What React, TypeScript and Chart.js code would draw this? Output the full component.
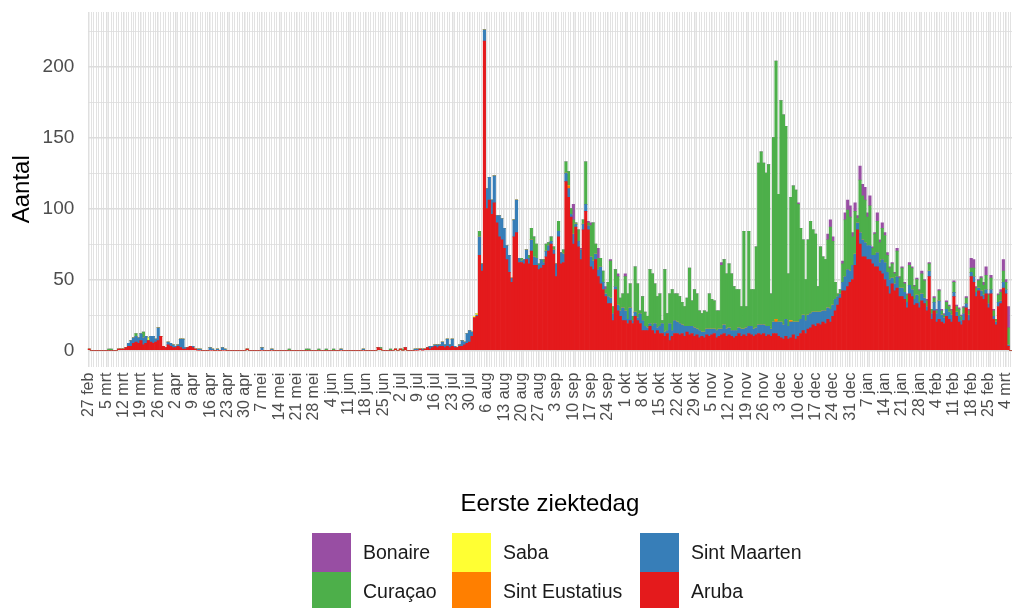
import React, { useEffect, useRef } from 'react';
import { Chart, registerables } from 'chart.js';

Chart.register(...registerables);

// Tick labels (one every 7 days, starting 27 feb 2020)
const TICK_LABELS = [
  '27 feb', '5 mrt', '12 mrt', '19 mrt', '26 mrt', '2 apr', '9 apr', '16 apr', '23 apr', '30 apr',
  '7 mei', '14 mei', '21 mei', '28 mei', '4 jun', '11 jun', '18 jun', '25 jun', '2 jul', '9 jul',
  '16 jul', '23 jul', '30 jul', '6 aug', '13 aug', '20 aug', '27 aug', '3 sep', '10 sep', '17 sep',
  '24 sep', '1 okt', '8 okt', '15 okt', '22 okt', '29 okt', '5 nov', '12 nov', '19 nov', '26 nov',
  '3 dec', '10 dec', '17 dec', '24 dec', '31 dec', '7 jan', '14 jan', '21 jan', '28 jan', '4 feb',
  '11 feb', '18 feb', '25 feb', '4 mrt',
];

// y gridline values (labels only on the multiples of 50)
const Y_TICKS = [0, 25, 50, 75, 100, 125, 150, 175, 200, 225];

// Daily counts, day 0 = 27 feb 2020 ... day 373 = 6 mrt 2021
const ARUBA = [
  1,0,0,0,0,0,0,0,0,0,0,0,1,1,
  1,2,3,3,5,6,5,7,4,5,7,6,5,6,
  7,10,3,2,4,3,2,2,3,2,1,1,2,3,
  2,1,0,0,0,0,0,0,0,0,0,0,0,0,
  0,0,0,0,0,0,0,0,1,0,0,0,0,0,
  0,0,0,0,0,0,0,0,0,0,0,0,0,0,
  0,0,0,0,0,0,0,0,0,0,0,0,0,0,
  0,0,0,0,0,0,0,0,0,0,0,0,0,0,
  0,0,0,0,0,2,1,0,0,0,0,0,1,0,
  1,0,2,0,0,0,0,0,1,0,1,2,1,2,
  3,2,3,3,2,3,2,3,2,2,3,3,4,5,
  6,10,23,24,67,56,218,100,106,96,104,90,80,78,
  72,64,55,48,80,83,62,62,61,64,61,70,60,60,
  57,58,60,66,70,75,68,52,80,61,62,119,108,94,
  75,87,73,64,85,98,85,59,57,64,52,47,43,38,
  33,33,21,43,28,24,21,21,19,21,19,24,21,19,
  14,14,14,17,14,12,14,12,12,10,12,7,10,12,
  12,11,12,10,13,11,12,10,11,9,10,9,11,10,
  11,12,9,10,11,12,10,11,10,9,10,12,10,11,
  10,12,11,10,11,12,11,12,10,11,10,12,12,10,
  9,8,10,8,9,11,8,10,12,14,12,15,16,18,
  17,19,18,20,19,22,20,24,28,32,37,42,42,45,
  48,50,60,85,75,66,66,64,64,61,59,59,56,54,
  50,45,40,47,42,44,38,38,36,30,40,38,32,33,
  30,35,33,28,52,22,28,20,22,20,19,24,22,20,
  38,24,20,18,21,30,21,52,48,38,42,38,36,40,
  30,40,22,18,31,33,44,40,3,0,
];

const SINT_MAARTEN = [
  0,0,0,0,0,0,0,0,0,0,0,0,0,0,
  0,0,2,4,4,4,4,5,5,5,0,4,5,2,
  9,0,0,0,2,2,2,1,1,6,7,1,0,0,
  1,0,1,1,0,0,0,2,1,0,1,0,2,1,
  0,0,0,0,0,0,0,0,0,0,0,0,0,0,
  2,0,0,0,1,0,0,0,0,0,0,0,0,0,
  0,0,0,0,0,0,0,0,0,0,0,0,0,0,
  0,0,0,0,1,0,0,0,0,0,0,0,0,1,
  0,0,0,0,0,0,0,0,0,0,0,0,0,0,
  0,0,0,0,0,0,1,1,0,1,0,0,2,1,
  1,2,1,3,2,5,2,5,1,0,1,4,2,7,
  8,3,0,1,13,5,8,14,16,10,19,5,15,15,
  14,10,12,3,12,23,3,1,3,7,4,8,6,5,
  3,6,2,4,4,2,3,9,4,8,6,6,6,2,
  7,2,4,7,4,5,3,7,6,4,5,12,5,2,
  5,4,5,2,4,4,9,7,3,9,2,3,2,7,
  7,3,2,2,3,7,2,5,7,3,2,12,4,9,
  8,8,6,7,4,6,5,6,4,5,3,4,4,5,
  4,3,5,5,4,6,5,5,4,5,4,4,5,4,
  6,5,6,5,5,6,7,6,7,6,5,8,8,10,
  11,10,12,9,11,9,12,10,10,11,9,10,10,9,
  10,8,9,8,9,8,9,8,8,6,3,6,10,12,
  8,10,8,5,8,12,10,10,10,6,8,10,6,10,
  12,10,10,4,5,8,6,6,5,4,6,5,4,6,
  4,5,4,3,4,4,6,6,13,5,4,5,5,5,
  3,3,4,3,5,3,4,3,4,3,2,4,3,3,
  3,3,2,2,3,2,4,3,1,0,
];

const SINT_EUSTATIUS = [
  0,0,0,0,0,0,0,0,0,0,0,0,0,0,
  0,0,0,0,0,0,0,0,0,0,0,0,0,0,
  0,0,0,0,0,0,0,0,0,0,0,0,0,0,
  0,0,0,0,0,0,0,0,0,0,0,0,0,0,
  0,0,0,0,0,0,0,0,0,0,0,0,0,0,
  0,0,0,0,0,0,0,0,0,0,0,0,0,0,
  0,0,0,0,0,0,0,0,0,0,0,0,0,0,
  0,0,0,0,0,0,0,0,0,0,0,0,0,0,
  0,0,0,0,0,0,0,0,0,0,0,0,0,0,
  0,0,0,0,0,0,0,0,0,0,0,0,0,0,
  0,0,0,0,0,0,0,0,0,0,0,0,0,0,
  0,0,0,0,0,0,0,0,0,0,0,0,0,0,
  0,0,0,0,0,0,0,0,0,0,0,0,0,0,
  0,0,0,0,0,0,0,0,0,0,0,0,2,0,
  0,0,0,0,0,0,0,0,0,0,0,0,0,0,
  0,0,0,0,0,0,0,0,0,0,0,0,0,0,
  0,0,0,0,0,0,0,0,0,0,0,0,0,0,
  0,0,0,0,0,0,0,0,0,0,0,0,0,0,
  0,0,0,0,0,0,0,0,0,0,0,0,0,0,
  0,0,0,0,0,0,0,0,0,0,0,0,2,0,
  0,0,0,0,1,0,0,0,0,0,0,0,0,0,
  0,0,0,0,0,0,0,0,0,0,0,0,0,0,
  0,0,0,0,0,0,0,0,0,0,0,0,0,0,
  0,0,0,0,0,0,0,0,0,0,0,0,0,0,
  0,0,0,0,0,0,0,0,0,0,0,0,0,0,
  0,0,0,0,0,0,0,0,0,0,0,0,0,0,
  0,0,0,0,0,0,0,0,0,0,
];

const SABA = [
  0,0,0,0,0,0,0,0,0,0,0,0,0,0,
  0,0,0,0,0,0,0,0,0,0,2,0,0,0,
  0,0,0,0,0,0,0,0,0,0,0,0,0,0,
  0,0,0,0,0,0,0,0,0,0,0,0,0,0,
  0,0,0,0,0,0,0,0,0,0,0,0,0,0,
  0,0,0,0,0,0,0,0,0,0,0,0,0,0,
  0,0,0,0,0,0,0,0,0,0,0,0,0,0,
  0,0,0,0,0,0,0,0,0,0,0,0,0,0,
  0,0,0,0,0,0,0,0,0,0,0,0,0,0,
  0,0,0,0,0,0,0,0,0,0,0,0,0,0,
  0,0,0,0,0,0,0,0,0,0,0,0,0,0,
  0,0,1,1,0,0,0,0,0,0,0,0,0,0,
  0,0,0,0,0,0,0,0,0,0,0,0,0,0,
  0,0,0,0,0,0,0,0,0,0,0,0,0,0,
  0,0,0,0,0,0,0,0,0,0,0,0,0,0,
  0,0,0,0,0,0,0,0,0,0,0,0,0,0,
  0,0,0,0,0,0,0,0,0,0,0,0,0,0,
  0,0,0,0,0,0,0,0,0,0,0,0,0,0,
  0,0,0,0,0,0,0,0,0,0,0,0,0,0,
  0,0,0,0,0,0,0,0,0,0,0,0,0,0,
  0,0,0,0,0,0,0,0,0,0,0,0,0,0,
  0,0,0,0,0,0,0,0,0,0,0,0,0,0,
  0,0,0,0,0,0,0,0,0,0,0,0,0,0,
  0,0,0,0,0,0,0,0,0,0,0,0,0,0,
  0,0,0,0,0,0,0,0,0,0,0,0,0,0,
  0,0,0,0,0,0,0,0,0,0,0,0,0,0,
  0,0,0,0,0,0,0,0,0,0,
];

const CURACAO = [
  0,0,0,0,0,0,0,0,1,1,0,0,0,0,
  0,0,0,0,0,2,0,0,4,0,0,0,0,0,
  0,0,0,0,0,0,0,0,0,0,0,0,0,0,
  0,0,0,0,0,0,0,0,0,0,0,0,0,0,
  0,0,0,0,0,0,0,0,0,0,0,0,0,0,
  0,0,0,0,0,0,0,0,0,0,0,1,0,0,
  0,0,0,0,1,1,0,0,0,1,0,0,1,0,
  0,1,0,0,0,0,0,0,0,0,0,0,0,0,
  0,0,0,0,0,0,1,0,0,0,1,0,0,0,
  0,1,0,0,0,0,0,0,0,0,0,0,0,0,
  0,0,0,0,0,0,0,0,0,0,0,0,0,0,
  0,0,0,0,4,0,0,0,0,0,0,0,0,0,
  0,0,0,0,0,0,0,2,0,0,2,8,14,10,
  1,0,2,5,2,3,2,0,7,0,3,8,10,4,
  10,1,8,0,3,30,2,22,27,7,8,6,8,3,
  10,26,5,12,20,9,10,24,18,17,3,32,24,2,
  17,10,8,38,37,28,22,23,2,44,12,21,29,19,
  20,19,16,14,20,41,18,27,25,14,13,15,12,25,
  21,20,14,13,45,46,39,45,40,31,29,27,16,69,
  15,67,26,28,57,114,122,114,108,114,25,130,182,90,
  156,148,136,37,87,96,93,83,64,53,29,53,65,58,
  55,18,46,38,36,48,58,45,12,2,3,13,40,42,
  38,20,30,3,37,31,30,20,28,5,15,22,14,22,
  19,12,8,10,7,18,7,14,6,5,14,15,9,11,
  8,14,12,4,5,3,3,2,7,3,2,5,4,3,
  7,4,5,3,4,4,3,3,6,3,5,9,7,10,
  6,8,4,2,5,6,8,5,12,0,
];

const BONAIRE = [
  0,0,0,0,0,0,0,0,0,0,0,0,0,0,
  0,0,0,0,0,0,0,0,0,0,0,0,0,0,
  0,0,0,0,0,0,0,0,0,0,0,0,0,0,
  0,0,0,0,0,0,0,0,0,0,0,0,0,0,
  0,0,0,0,0,0,0,0,0,0,0,0,0,0,
  0,0,0,0,0,0,0,0,0,0,0,0,0,0,
  0,0,0,0,0,0,0,0,0,0,0,0,0,0,
  0,0,0,0,0,0,0,0,0,0,0,0,0,0,
  0,0,0,0,0,0,0,0,0,0,0,0,0,0,
  0,0,0,0,0,0,0,0,0,0,0,0,0,0,
  0,0,0,0,0,0,0,0,0,0,0,0,0,0,
  0,0,0,0,0,0,0,0,0,0,0,0,0,0,
  0,0,0,0,0,0,0,0,0,0,0,0,0,0,
  0,0,0,0,0,0,0,0,0,0,0,0,0,0,
  11,0,0,1,0,0,1,2,0,0,7,0,0,2,
  0,1,0,0,2,0,0,2,0,0,0,0,0,0,
  0,0,0,0,0,0,0,0,0,0,0,0,0,0,
  0,0,0,0,0,0,0,0,0,0,0,0,0,0,
  0,0,0,0,2,0,0,0,0,0,0,0,0,0,
  0,0,0,0,0,0,0,0,0,0,0,0,0,0,
  0,0,0,0,0,0,0,1,0,0,0,0,0,0,
  0,0,0,0,0,4,5,3,0,0,0,2,5,7,
  8,3,6,2,10,8,9,3,7,1,1,6,2,4,
  2,2,1,1,1,2,1,1,1,1,2,1,1,1,
  1,2,1,1,1,0,1,1,1,1,1,1,1,1,
  1,1,1,1,1,1,1,7,6,1,1,1,2,6,
  1,2,1,0,1,2,8,2,15,0,
];

const DAYS = ARUBA.map((_, i) => `dag ${i}`);

const SERIES = [
  { label: 'Aruba', data: ARUBA, color: '#E41A1C' },
  { label: 'Sint Maarten', data: SINT_MAARTEN, color: '#377EB8' },
  { label: 'Sint Eustatius', data: SINT_EUSTATIUS, color: '#FF7F00' },
  { label: 'Saba', data: SABA, color: '#FFFF33' },
  { label: 'Curaçao', data: CURACAO, color: '#4DAF4A' },
  { label: 'Bonaire', data: BONAIRE, color: '#984EA3' },
];

// legend in ggplot order (column-major, 2 rows)
const LEGEND = [
  { label: 'Bonaire', color: '#984EA3' },
  { label: 'Curaçao', color: '#4DAF4A' },
  { label: 'Saba', color: '#FFFF33' },
  { label: 'Sint Eustatius', color: '#FF7F00' },
  { label: 'Sint Maarten', color: '#377EB8' },
  { label: 'Aruba', color: '#E41A1C' },
];

const FONT = '"Liberation Sans", Arial, Helvetica, sans-serif';
const W = 1012;
const H = 608;
const PLOT_LEFT = 87.8;
const PLOT_BOTTOM = 366.6;
const LEG_COLS = [312, 452, 640];
const LEG_ROWS = [533, 572];
const LEG_SQ = 39;

export default function App() {
  const ref = useRef<HTMLCanvasElement>(null);

  useEffect(() => {
    const canvas = ref.current;
    if (!canvas) return;
    const chart = new Chart(canvas, {
      type: 'bar',
      data: {
        labels: DAYS,
        datasets: SERIES.map((s) => ({
          label: s.label,
          data: s.data,
          backgroundColor: s.color,
          borderWidth: 0,
          barPercentage: 1,
          categoryPercentage: 1,
        })),
      },
      options: {
        animation: false,
        responsive: false,
        maintainAspectRatio: false,
        devicePixelRatio: 1,
        layout: { padding: { top: 12, left: 0, right: 0, bottom: 0 }, autoPadding: false },
        plugins: { legend: { display: false }, tooltip: { enabled: false } },
        scales: {
          x: {
            stacked: true,
            offset: true,
            border: { display: false },
            grid: {
              offset: false,
              drawTicks: false,
              color: '#DFDFDF',
              lineWidth: (ctx: any) => (ctx.index % 7 === 0 ? 1.5 : 0.9),
            },
            ticks: {
              autoSkip: false,
              maxRotation: 90,
              minRotation: 90,
              padding: 6,
              color: '#4D4D4D',
              font: { family: FONT, size: 16 },
              callback: (_v: any, i: number) => (i % 7 === 0 ? TICK_LABELS[i / 7] : ''),
            },
            title: {
              display: true,
              text: 'Eerste ziektedag',
              color: '#000000',
              font: { family: FONT, size: 24 },
              padding: { top: 0, bottom: 89.6 },
            },
            afterFit: (scale: any) => {
              scale.height = H - PLOT_BOTTOM;
              scale.paddingLeft = 0;
              scale.paddingRight = 0;
              scale.paddingTop = 0;
              scale.paddingBottom = 0;
            },
          },
          y: {
            stacked: true,
            min: -11.35,
            max: 238.5,
            border: { display: false },
            grid: {
              drawTicks: false,
              color: '#DCDCDC',
              lineWidth: (ctx: any) => (ctx.tick && ctx.tick.value % 50 === 0 ? 1.5 : 0.8),
            },
            afterBuildTicks: (scale: any) => {
              scale.ticks = Y_TICKS.map((v) => ({ value: v }));
            },
            ticks: {
              autoSkip: false,
              padding: 13.5,
              color: '#4D4D4D',
              font: { family: FONT, size: 19 },
              callback: (v: any) => (Number(v) % 50 === 0 ? String(v) : ''),
            },
            title: {
              display: true,
              text: 'Aantal',
              color: '#000000',
              font: { family: FONT, size: 24 },
              padding: { top: 8, bottom: 0 },
            },
            afterFit: (scale: any) => {
              scale.width = PLOT_LEFT;
              scale.paddingLeft = 0;
              scale.paddingRight = 0;
              scale.paddingTop = 0;
              scale.paddingBottom = 0;
            },
          },
        },
      },
    } as any);
    return () => chart.destroy();
  }, []);

  return (
    <div style={{ position: 'absolute', left: 0, top: 0, width: W, height: H, background: '#ffffff', overflow: 'hidden' }}>
      <canvas ref={ref} width={W} height={H} style={{ position: 'absolute', left: 0, top: 0, width: W, height: H }} />
      {LEGEND.map((item, i) => {
        const col = Math.floor(i / 2);
        const row = i % 2;
        const left = LEG_COLS[col];
        const top = LEG_ROWS[row];
        return (
          <div key={item.label}>
            <div style={{ position: 'absolute', left, top, width: LEG_SQ, height: LEG_SQ, background: item.color }} />
            <div
              style={{
                position: 'absolute',
                left: left + LEG_SQ + 12,
                top,
                height: LEG_SQ,
                lineHeight: `${LEG_SQ}px`,
                fontFamily: FONT,
                fontSize: 19.5,
                color: '#1A1A1A',
                whiteSpace: 'nowrap',
              }}
            >
              {item.label}
            </div>
          </div>
        );
      })}
    </div>
  );
}
